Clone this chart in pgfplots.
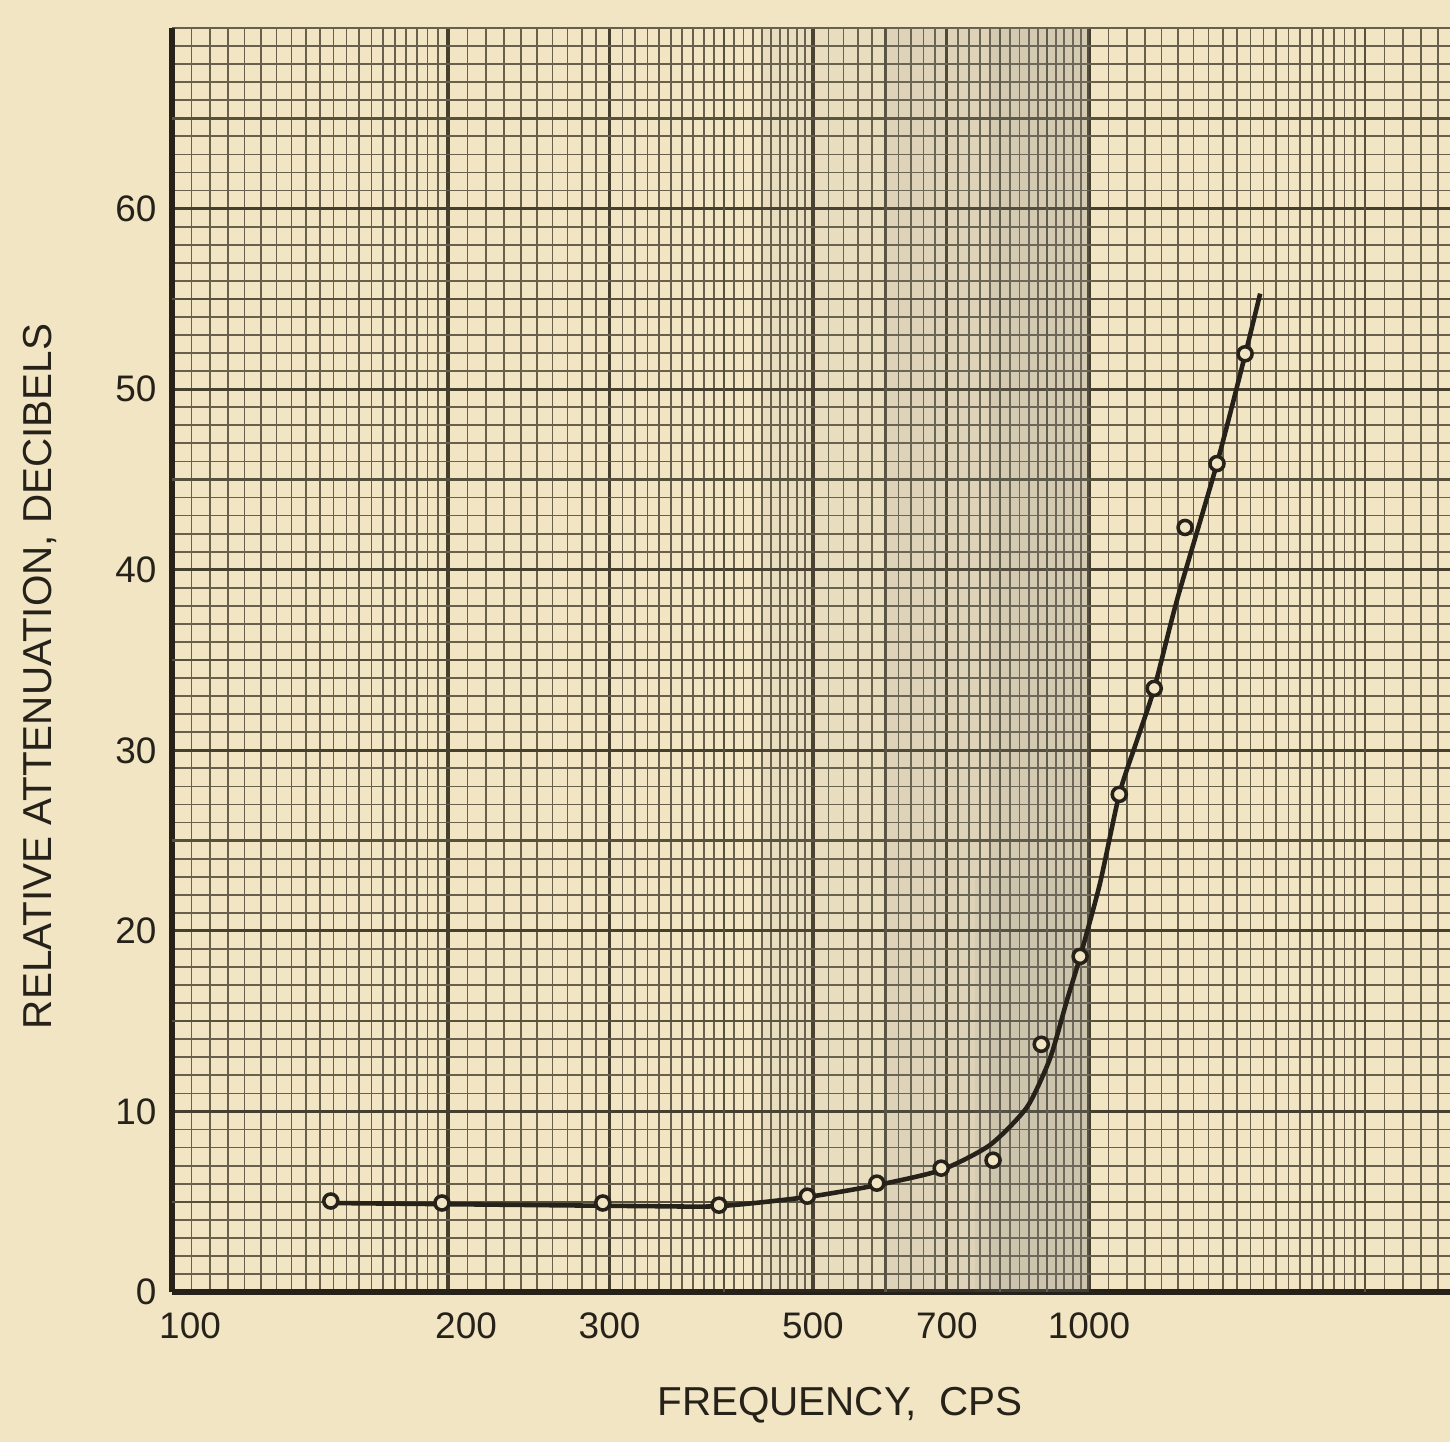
\documentclass[border=0pt]{standalone}
\usepackage{fontspec}
\setmainfont{Liberation Sans}
\usepackage{pgfplots}
\pgfplotsset{compat=1.18}

\definecolor{paper}{RGB}{241,229,196}
\definecolor{ink}{RGB}{38,34,26}
\definecolor{gridc}{RGB}{70,63,46}

\begin{document}
\begin{tikzpicture}
\fill[paper] (-1.72cm,-1.5cm) rectangle (12.78cm,12.92cm);
\begin{axis}[
  at={(0,0)}, anchor=south west, scale only axis,
  width=12.78cm, height=12.64cm,
  xmode=log, xmin=100, xmax=2476, ymin=0, ymax=70,
  axis x line*=bottom, axis y line*=left,
  axis line style={ink, line width=1.5pt, -},
  /pgf/number format/assume math mode=true,
  xtick={100,200,300,500,700,1000},
  xticklabels={\hspace{0.36cm}100,\hspace{0.36cm}200,300,500,700,1000},
  minor xtick={105,110,...,195,210,220,...,490,520,540,...,980,1050,1100,...,1950,2100,2200,2300,2400},
  extra x ticks={400,600,800,900,2000}, extra x tick labels={},
  ytick={0,10,...,60}, minor ytick={1,2,...,70},
  extra y ticks={5,15,...,65}, extra y tick labels={},
  grid=both,
  major tick length=0pt, minor tick length=0pt,
  minor grid style={gridc!80!paper, line width=0.5pt},
  major grid style={gridc, line width=0.9pt},
  extra x tick style={grid=major, major grid style={gridc!90!paper, line width=0.7pt}},
  extra y tick style={grid=major, major grid style={gridc!90!paper, line width=0.7pt}},
  tick label style={font=\fontsize{10.5}{12}\selectfont, text=ink},
  xticklabel style={inner sep=0pt, anchor=north, yshift=-0.2cm},
  yticklabel style={inner sep=0pt, anchor=east, xshift=-0.15cm},
  label style={font=\fontsize{11.5}{13}\selectfont, text=ink},
  xlabel={FREQUENCY,\ \ CPS},
  ylabel={RELATIVE ATTENUATION, DECIBELS},
  xlabel style={at={(axis description cs:0.5227,-0.0894)}, anchor=center},
  ylabel style={at={(axis description cs:-0.1033,0.487)}, anchor=center},
]
% darker band left on the paper by the scan
\fill[gray, opacity=0.07] (axis cs:440,0) rectangle (axis cs:1000,70);
\fill[gray, opacity=0.10] (axis cs:600,0) rectangle (axis cs:1000,70);
\fill[gray, opacity=0.10] (axis cs:780,0) rectangle (axis cs:1000,70);
\fill[gray, opacity=0.08] (axis cs:751,0) rectangle (axis cs:1000,23);

\addplot[ink, line width=1.3pt, smooth, tension=0.4] coordinates {
  (149.1,4.93)(323.9,4.76)(395.9,4.76)(492.6,5.26)(587.2,5.92)(689.5,6.75)
  (779.9,8.14)(855.9,10.24)(907,12.95)(946.2,16.16)(977.7,18.54)(1028,22.63)
  (1079,27.56)(1128,30.55)(1178,33.43)(1247,38.3)(1379,45.88)(1480,51.9)(1537,55.29)};
\addplot[only marks, mark=*, mark size=2pt,
  mark options={fill=paper, draw=ink, line width=1pt}] coordinates {
  (149,5.04)(197,4.93)(295,4.93)(395,4.81)(493,5.31)(587,6.03)(690,6.86)
  (786,7.30)(887,13.72)(978,18.59)(1079,27.56)(1178,33.43)(1273,42.34)
  (1379,45.88)(1480,51.96)};
\end{axis}
\pgfresetboundingbox
\useasboundingbox (-1.72cm,-1.5cm) rectangle (12.78cm,12.92cm);
\end{tikzpicture}
\end{document}
